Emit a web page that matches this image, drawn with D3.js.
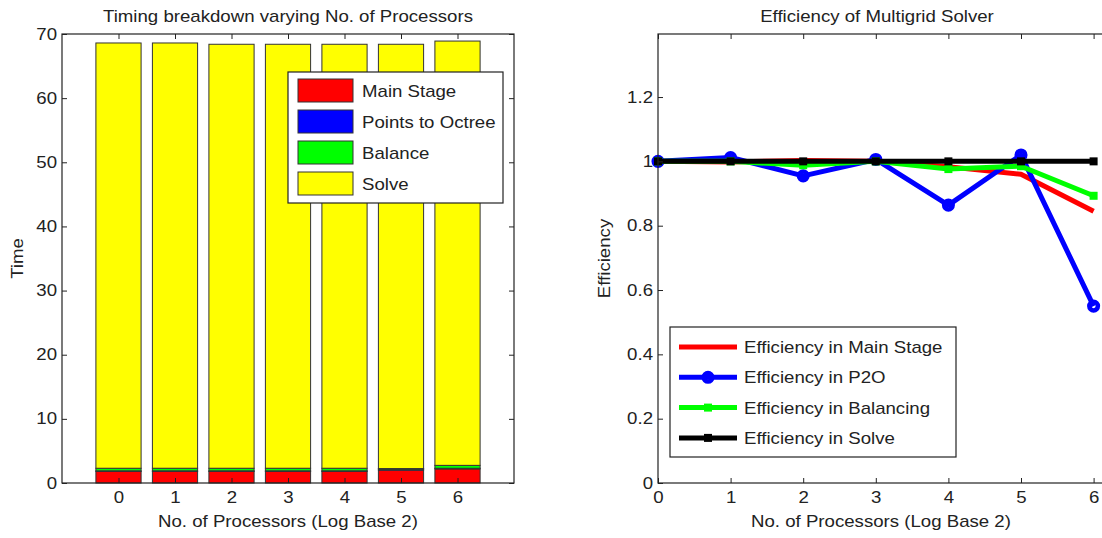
<!DOCTYPE html>
<html>
<head>
<meta charset="utf-8">
<script src="https://cdn.jsdelivr.net/npm/d3@7"></script>
<style>
  body { margin: 0; background: #fff; }
  text { font-family: "Liberation Sans", Arial, sans-serif; fill: #222; }
</style>
</head>
<body>
<svg id="fig" width="1102" height="538"></svg>
<script>
// ---- data ----
let procs = [0, 1, 2, 3, 4, 5, 6];

// timing breakdown (stacked, bottom to top)
let mainStage = [1.8, 1.8, 1.8, 1.8, 1.8, 2.0, 2.2];
let pointsToOctree = [0.1, 0.1, 0.1, 0.1, 0.1, 0.15, 0.1];
let balance = [0.4, 0.4, 0.4, 0.4, 0.4, 0.1, 0.45];
let solve = [66.3, 66.3, 66.1, 66.1, 66.1, 66.15, 66.15];

let stackKeys = ["Main Stage", "Points to Octree", "Balance", "Solve"];
let stackColors = ["#ff0000", "#0000ff", "#00ff00", "#ffff00"];
let timeTicks = [0, 10, 20, 30, 40, 50, 60, 70];

// efficiency
let effMain = [1.0, 0.998, 1.003, 1.0, 0.983, 0.96, 0.845];
let effP2O = [1.0, 1.012, 0.955, 1.006, 0.864, 1.02, 0.55];
let effBalance = [1.0, 1.0, 0.988, 1.0, 0.976, 0.985, 0.893];
let effSolve = [1.0, 1.0, 1.0, 1.0, 1.0, 1.0, 1.0];
let effTicks = [0, 0.2, 0.4, 0.6, 0.8, 1.0, 1.2];

let effSeries = [
  {name: "Efficiency in Main Stage", values: effMain, color: "#ff0000", marker: "none"},
  {name: "Efficiency in P2O", values: effP2O, color: "#0000ff", marker: "circle"},
  {name: "Efficiency in Balancing", values: effBalance, color: "#00ff00", marker: "square"},
  {name: "Efficiency in Solve", values: effSolve, color: "#000000", marker: "square"}
];

const svg = d3.select("#fig");
const axisColor = "#222";
const wide = 1.165;   // the original's glyphs are a bit wider than Liberation Sans

// put text at (x,y) stretched horizontally
function label(g, x, y, str, anchor, rot) {
  return g.append("text")
    .attr("transform", `translate(${x},${y})` + (rot ? ` rotate(${rot})` : "") + ` scale(${wide},1)`)
    .attr("text-anchor", anchor || "start")
    .style("font-size", "16px")
    .text(str);
}

function stretchTicks(g) {
  g.selectAll(".tick text").each(function() {
    const t = d3.select(this);
    const x = +t.attr("x") || 0, y = +t.attr("y") || 0;
    t.attr("transform", `translate(${x},${y}) scale(${wide},1)`).attr("x", 0).attr("y", 0);
  });
}

// draws Matlab-like box axes with inward ticks
function boxAxes(g, x, y, xTicks, yTicks, yFmt, left, right, top, bottom) {
  g.append("g").attr("transform", `translate(0,${bottom})`)
    .call(d3.axisBottom(x).tickValues(xTicks).tickSizeInner(-5).tickSizeOuter(0).tickPadding(9).tickFormat(d3.format("d")));
  g.append("g").attr("transform", `translate(0,${top})`)
    .call(d3.axisTop(x).tickValues(xTicks).tickSizeInner(-5).tickSizeOuter(0).tickFormat(""));
  g.append("g").attr("transform", `translate(${left},0)`)
    .call(d3.axisLeft(y).tickValues(yTicks).tickSizeInner(-5).tickSizeOuter(0).tickPadding(5).tickFormat(yFmt));
  g.append("g").attr("transform", `translate(${right},0)`)
    .call(d3.axisRight(y).tickValues(yTicks).tickSizeInner(-5).tickSizeOuter(0).tickFormat(""));
  g.selectAll(".domain").remove();
  g.selectAll(".tick line").attr("stroke", axisColor);
  g.selectAll(".tick text").style("font-size", "16px").attr("fill", "#222");
  stretchTicks(g);
  g.append("rect").attr("x", left).attr("y", top)
    .attr("width", right - left).attr("height", bottom - top)
    .attr("fill", "none").attr("stroke", axisColor).attr("stroke-width", 1.2);
}

// ---------------- left: stacked bars ----------------
{
  const L = 62, R = 514, T = 34, B = 483;
  const x = d3.scaleLinear().domain([-1, 7]).range([L, R]);
  const y = d3.scaleLinear().domain([0, 70]).range([B, T]);
  const g = svg.append("g");

  const table = procs.map((p, i) => ({
    p: p,
    "Main Stage": mainStage[i],
    "Points to Octree": pointsToOctree[i],
    "Balance": balance[i],
    "Solve": solve[i]
  }));
  const stacked = d3.stack().keys(stackKeys)(table);
  const bw = 0.8 * (x(1) - x(0));

  g.selectAll("g.layer").data(stacked).join("g")
    .attr("class", "layer")
    .attr("fill", (d, i) => stackColors[i])
    .selectAll("rect").data(d => d).join("rect")
    .attr("x", d => x(d.data.p) - bw / 2)
    .attr("width", bw)
    .attr("y", d => y(d[1]))
    .attr("height", d => y(d[0]) - y(d[1]))
    .attr("stroke", "#333").attr("stroke-width", 1);

  boxAxes(g, x, y, procs, timeTicks, d3.format("d"), L, R, T, B);

  label(g, (L + R) / 2, 22, "Timing breakdown varying No. of Processors", "middle");
  label(g, (L + R) / 2, 527, "No. of Processors (Log Base 2)", "middle");
  label(g, 23, (T + B) / 2, "Time", "middle", -90);

  // legend
  const lg = g.append("g");
  lg.append("rect").attr("x", 288).attr("y", 72).attr("width", 215).attr("height", 131)
    .attr("fill", "#fff").attr("stroke", "#222").attr("stroke-width", 1.2);
  stackKeys.forEach((k, i) => {
    const cy = 90.5 + i * 31;
    lg.append("rect").attr("x", 298).attr("y", cy - 11.5).attr("width", 55).attr("height", 23)
      .attr("fill", stackColors[i]).attr("stroke", "#333").attr("stroke-width", 1);
    label(lg, 362, cy + 6, k);
  });
}

// ---------------- right: efficiency lines ----------------
{
  const L = 658, T = 34, B = 483;
  const unit = 72.6;
  const R = L + 6.25 * unit;   // right edge falls outside the picture
  const x = d3.scaleLinear().domain([0, 6.25]).range([L, R]);
  const y = d3.scaleLinear().domain([0, 1.396]).range([B, T]);
  const g = svg.append("g");

  const line = d3.line().x((d, i) => x(procs[i])).y(d => y(d));

  function drawMarker(sel, type, color, cx, cy) {
    if (type === "circle") {
      sel.append("circle").attr("cx", cx).attr("cy", cy).attr("r", 4.3)
        .attr("fill", "none").attr("stroke", color).attr("stroke-width", 4.5);
    } else if (type === "square") {
      sel.append("rect").attr("x", cx - 4).attr("y", cy - 4).attr("width", 8).attr("height", 8)
        .attr("fill", color);
    }
  }

  effSeries.forEach(s => {
    const sg = g.append("g");
    sg.append("path").attr("d", line(s.values))
      .attr("fill", "none").attr("stroke", s.color).attr("stroke-width", 5)
      .attr("stroke-linejoin", "round");
    s.values.forEach((v, i) => drawMarker(sg, s.marker, s.color, x(procs[i]), y(v)));
  });

  boxAxes(g, x, y, procs, effTicks, d => d === 1 ? "1" : d3.format("")(d), L, R, T, B);

  label(g, 877, 22, "Efficiency of Multigrid Solver", "middle");
  label(g, 881, 527, "No. of Processors (Log Base 2)", "middle");
  label(g, 610, (T + B) / 2, "Efficiency", "middle", -90);

  // legend
  const lg = g.append("g");
  lg.append("rect").attr("x", 670).attr("y", 327).attr("width", 286).attr("height", 130)
    .attr("fill", "#fff").attr("stroke", "#222").attr("stroke-width", 1.2);
  effSeries.forEach((s, i) => {
    const cy = 347 + i * 30.3;
    lg.append("line").attr("x1", 679).attr("x2", 737).attr("y1", cy).attr("y2", cy)
      .attr("stroke", s.color).attr("stroke-width", 5);
    drawMarker(lg, s.marker, s.color, 708, cy);
    label(lg, 744, cy + 6, s.name);
  });
}
</script>
</body>
</html>
